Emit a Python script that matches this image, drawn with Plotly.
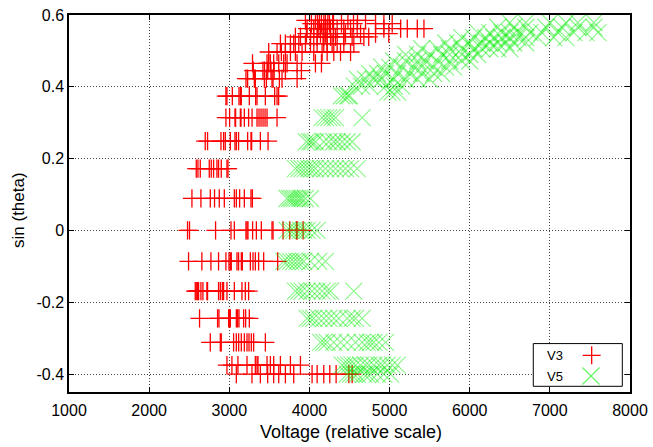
import plotly.graph_objects as go

# ---- V3 series: voltages recorded at each sin(theta) level ----
V3_LEVELS = [-0.40, -0.375, -0.312, -0.245, -0.169, -0.086, 0.0, 0.089, 0.172,
             0.249, 0.314, 0.374, 0.423, 0.445, 0.465, 0.497, 0.52, 0.539,
             0.548, 0.562, 0.576, 0.585]
V3_VOLTAGES = [
    [3088, 3283, 3388, 3479, 3554, 3617, 3700, 3804, 4033, 4096, 4179, 4254, 4333, 4492, 4533],
    [2971, 3033, 3108, 3221, 3325, 3346, 3358, 3471, 3513, 3554, 3638, 3763, 3888],
    [2763, 2888, 2900, 3054, 3088, 3117, 3150, 3188, 3221, 3246, 3275, 3304, 3450],
    [2629, 2854, 2871, 2992, 3004, 3013, 3088, 3104, 3121, 3179, 3204, 3250],
    [2575, 2588, 2604, 2617, 2646, 2671, 2721, 2729, 2866, 2888, 2913, 2929, 2971, 3063, 3158, 3200, 3241],
    [2492, 2658, 2771, 2866, 2958, 2996, 3013, 3025, 3096, 3116, 3150, 3163, 3263, 3296, 3325, 3366, 3429, 3604],
    [2479, 2504, 2829, 3021, 3063, 3208, 3221, 3233, 3291, 3338, 3400, 3533, 3546, 3671, 3754, 3838, 3846, 3921],
    [2534, 2646, 2763, 2816, 2875, 2938, 3063, 3088, 3129, 3188, 3271, 3288],
    [2588, 2609, 2638, 2750, 2775, 2804, 2846, 2866, 2900, 2971, 2984],
    [2700, 2729, 2896, 2929, 2950, 3013, 3071, 3088, 3116, 3229, 3271, 3279, 3388, 3484],
    [2958, 3004, 3071, 3079, 3138, 3146, 3188, 3241, 3284, 3346, 3371, 3396, 3421, 3446, 3471, 3596],
    [2958, 2971, 3038, 3121, 3138, 3150, 3250, 3329, 3346, 3450, 3566, 3596, 3616],
    [3208, 3229, 3313, 3325, 3438, 3463, 3533, 3546, 3625, 3658, 3846],
    [3300, 3420, 3440, 3480, 3520, 3560, 3700, 3900],
    [3290, 3471, 3492, 3513, 3554, 3617, 3679, 3721, 3846, 4075, 4150],
    [3492, 3596, 3650, 3700, 3763, 3825, 3908, 4054, 4158, 4221, 4304, 4388, 4513],
    [3638, 3700, 3763, 3804, 3867, 3950, 4013, 4096, 4179, 4221, 4283, 4346, 4429, 4554],
    [3825, 3888, 4013, 4054, 4096, 4179, 4221, 4263, 4325, 4429, 4533, 4679, 4740],
    [3963, 4138, 4170, 4200, 4300, 4450, 4638, 4825, 4990],
    [3971, 4054, 4117, 4179, 4221, 4263, 4346, 4429, 4513, 4596, 4929, 5138, 5221, 5346, 5429],
    [4025, 4100, 4150, 4200, 4250, 4300, 4400, 4550, 4825, 4929, 5033],
    [3950, 4075, 4125, 4180, 4230, 4290, 4480, 4600, 4700],
]

# ---- V5 series: voltages recorded at each sin(theta) level ----
V5_LEVELS = [-0.40, -0.375, -0.312, -0.245, -0.169, -0.086, 0.0, 0.089, 0.172,
             0.247, 0.314, 0.375, 0.385, 0.402, 0.421, 0.437, 0.455, 0.472,
             0.49, 0.506, 0.522, 0.537, 0.551, 0.566, 0.579]
V5_VOLTAGES = [
    [4471, 4513, 4554, 4596, 4679, 4721, 4763, 4846, 4929, 5013],
    [4408, 4450, 4492, 4533, 4575, 4638, 4700, 4742, 4804, 4867, 4908, 4971, 5033, 5096],
    [4138, 4179, 4221, 4304, 4388, 4471, 4575, 4658, 4721, 4763, 4804, 4867, 4950],
    [3971, 4013, 4054, 4117, 4179, 4242, 4304, 4367, 4471, 4533, 4575, 4658],
    [3825, 3867, 3908, 3971, 4033, 4096, 4158, 4221, 4263, 4554],
    [3679, 3721, 3763, 3804, 3846, 3888, 3929, 4013, 4117, 4200],
    [3721, 3763, 3804, 3846, 3888, 3929, 3971, 4033, 4096],
    [3721, 3754, 3783, 3813, 3846, 3879, 3908, 3950, 4013],
    [3825, 3867, 3908, 3950, 3992, 4033, 4075, 4138, 4200, 4263, 4325, 4388, 4450, 4513, 4596],
    [3963, 4004, 4033, 4075, 4179, 4242, 4304, 4346, 4408, 4471, 4533],
    [4158, 4200, 4242, 4283, 4325, 4658],
    [4400, 4440, 4480, 4500],
    [4980, 5030, 5100],
    [4560, 4650, 4750, 4950, 5060, 5150],
    [4600, 4700, 4800, 4900, 5050, 5200, 5350, 5500],
    [4750, 4850, 4950, 5100, 5250, 5400, 5550, 5650],
    [4900, 5000, 5150, 5300, 5400, 5550, 5700, 5800],
    [5050, 5200, 5350, 5450, 5600, 5750, 5900, 6000],
    [5200, 5350, 5500, 5650, 5750, 5900, 6000, 6100],
    [5400, 5600, 5750, 5900, 6050, 6150, 6250, 6350, 6500],
    [5700, 5850, 6000, 6150, 6250, 6350, 6450, 6550, 6700],
    [5900, 6050, 6200, 6300, 6400, 6500, 6600, 6700, 6850, 7050, 7200],
    [6100, 6250, 6400, 6500, 6600, 6750, 6900, 7100, 7300, 7450, 7600],
    [6350, 6550, 6700, 6950, 7150, 7350, 7550],
    [6500, 6700, 7000, 7200, 7350, 7550],
]

X_TICKS = [1000, 2000, 3000, 4000, 5000, 6000, 7000, 8000]
X_TICK_TEXT = ["1000", "2000", "3000", "4000", "5000", "6000", "7000", "8000"]
Y_TICKS = [-0.4, -0.2, 0, 0.2, 0.4, 0.6]
Y_TICK_TEXT = ["-0.4", "-0.2", "0", "0.2", "0.4", "0.6"]
X_TITLE = "Voltage (relative scale)"
Y_TITLE = "sin (theta)"


def flatten(levels, voltages):
    xs, ys = [], []
    for lvl, row in zip(levels, voltages):
        for v in row:
            xs.append(v)
            ys.append(lvl)
    return xs, ys


v3_x, v3_y = flatten(V3_LEVELS, V3_VOLTAGES)
v5_x, v5_y = flatten(V5_LEVELS, V5_VOLTAGES)

RED = "#ff0000"
GREEN = "rgba(0,235,0,0.45)"
FONT = "Liberation Sans, Arial, sans-serif"

fig = go.Figure()
fig.add_trace(go.Scatter(
    x=v3_x, y=v3_y, mode="markers", name="V3", showlegend=False,
    marker=dict(symbol="cross-thin", size=13, line=dict(color=RED, width=1.3)),
))
fig.add_trace(go.Scatter(
    x=v5_x, y=v5_y, mode="markers", name="V5", showlegend=False,
    marker=dict(symbol="x-thin", size=17, line=dict(color=GREEN, width=1.2)),
))

axis_common = dict(
    showline=True, linecolor="black", linewidth=1.5, mirror="allticks",
    ticks="inside", ticklen=5, tickwidth=1.2, tickcolor="black",
    showgrid=True, gridcolor="#444", gridwidth=1, griddash="1px,2px",
    zeroline=False, automargin=False,
    tickfont=dict(family=FONT, size=16, color="black"),
)

fig.update_xaxes(range=[1000, 8000], tickvals=X_TICKS, ticktext=X_TICK_TEXT,
                 ticklabelstandoff=3, **axis_common)
fig.update_yaxes(range=[-0.45, 0.6], tickvals=Y_TICKS, ticktext=Y_TICK_TEXT,
                 **axis_common)

# Axis titles placed as text below / left of the frame
fig.add_annotation(x=0.502, y=-0.107, xref="paper", yref="paper", text=X_TITLE,
                   showarrow=False, xanchor="center", yanchor="middle",
                   font=dict(family=FONT, size=18, color="black"))
fig.add_annotation(x=-0.0897, y=0.482, xref="paper", yref="paper", text=Y_TITLE,
                   showarrow=False, xanchor="center", yanchor="middle", textangle=-90,
                   font=dict(family=FONT, size=17, color="black"))

# Key box in the lower-right corner: label on the left, symbol on the right
box = dict(x0=0.8276, x1=0.9863, y0=0.0151, y1=0.1284)
fig.add_shape(type="rect", xref="paper", yref="paper", **box,
              line=dict(color="black", width=1), fillcolor="white", layer="above")
cx3, cy3, cx5, cy5 = 0.9317, 0.0973, 0.9305, 0.0424
ax, ay = 0.016, 0.0239
fig.add_shape(type="path", xref="paper", yref="paper", layer="above",
              path=f"M{cx3 - ax},{cy3} L{cx3 + ax},{cy3} M{cx3},{cy3 - ay} L{cx3},{cy3 + ay}",
              line=dict(color=RED, width=1.3))
bx, by = 0.0152, 0.0225
fig.add_shape(type="path", xref="paper", yref="paper", layer="above",
              path=(f"M{cx5 - bx},{cy5 - by} L{cx5 + bx},{cy5 + by} "
                    f"M{cx5 - bx},{cy5 + by} L{cx5 + bx},{cy5 - by}"),
              line=dict(color="rgba(0,235,0,0.6)", width=1.2))
for label, yy in (("V3", cy3), ("V5", cy5)):
    fig.add_annotation(x=0.8485, y=yy, xref="paper", yref="paper", text=label,
                       showarrow=False, xanchor="left", yanchor="middle",
                       font=dict(family=FONT, size=13, color="black"))

fig.update_layout(
    width=653, height=447,
    margin=dict(l=69, r=23, t=15, b=55, autoexpand=False),
    plot_bgcolor="white", paper_bgcolor="white",
    showlegend=False,
)

fig.write_html("out.html")
